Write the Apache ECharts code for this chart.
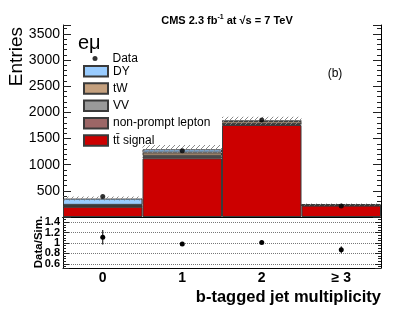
<!DOCTYPE html>
<html>
<head>
<meta charset="utf-8">
<script src="https://cdn.jsdelivr.net/npm/echarts@6/dist/echarts.min.js"></script>
<style>
  html, body { margin: 0; padding: 0; background: #fff; }
  #chart { width: 407px; height: 328px; }
</style>
</head>
<body>
<div id="chart"></div>
<script>
// b-tag multiplicity bins
const bins = ['0', '1', '2', '≥ 3'];
// stacked simulation, bottom to top
const ttSignal = [195, 1122, 1759, 218];
const nonPrompt = [10, 35, 20, 4];
const vv = [12, 15, 3, 1];
const tw = [15, 60, 50, 14];
const dy = [120, 62, 5, 3];
// data and simulation uncertainty band
const dataCounts = [390, 1268, 1855, 209];
const mcLow = [314, 1222, 1765, 222];
const mcHigh = [390, 1375, 1915, 258];
// ratio panel
const ratio = [1.11, 0.98, 1.01, 0.87];
const ratioErr = [0.14, 0.03, 0.03, 0.065];

const FONT = '"Liberation Sans", Arial, Helvetica, sans-serif';

// hatch pattern for the uncertainty band
const hatch = document.createElement('canvas');
hatch.width = 5; hatch.height = 5;
(function () {
    const c = hatch.getContext('2d');
    c.strokeStyle = '#8a8a8a';
    c.lineWidth = 1;
    c.beginPath();
    c.moveTo(0, 5); c.lineTo(5, 0);
    c.stroke();
})();

const chart = echarts.init(document.getElementById('chart'), null, { renderer: 'canvas' });

function bar(name, values, color) {
    return {
        name: name,
        type: 'bar',
        stack: 'mc',
        data: values,
        xAxisIndex: 0,
        yAxisIndex: 0,
        barCategoryGap: '0%',
        itemStyle: { color: color, borderColor: '#3a3a3a', borderWidth: 1 },
        emphasis: { disabled: true },
        animation: false
    };
}

const xCommon = {
    type: 'category',
    data: bins,
    boundaryGap: true,
    axisLine: { lineStyle: { color: '#000', width: 1 } },
    axisTick: { inside: true, alignWithLabel: true, length: 9, lineStyle: { color: '#222' } },
    splitLine: { show: false }
};

const option = {
    animation: false,
    title: {
        text: 'CMS 2.3 fb{sup|-1} at √s = 7 TeV',
        left: 222,
        top: 9,
        textAlign: 'center',
        textStyle: {
            fontFamily: FONT, fontSize: 11, fontWeight: 'bold', color: '#000',
            rich: { sup: { fontFamily: FONT, fontSize: 7, fontWeight: 'bold', padding: [0, 0, 6, 0] } }
        }
    },
    grid: [
        { left: 63, right: 26, top: 25, height: 192 },
        { left: 63, right: 26, top: 217, height: 51 }
    ],
    legend: [
        {
            data: [{ name: 'Data', icon: 'circle' }],
            orient: 'vertical', left: 92.5, top: 52.5, padding: 0,
            itemWidth: 5, itemHeight: 5, itemGap: 6,
            textStyle: { fontFamily: FONT, fontSize: 12, color: '#000', padding: [0, 0, 0, 10] },
            selectedMode: false
        },
        {
            data: ['DY', 'tW', 'VV', 'non-prompt lepton', 'tt\u0304 signal'],
            orient: 'vertical', left: 83, top: 65, padding: 0,
            icon: 'rect',
            itemWidth: 24, itemHeight: 10.5, itemGap: 4.8,
            textStyle: { fontFamily: FONT, fontSize: 12, color: '#000', lineHeight: 10 },
            selectedMode: false
        }
    ],
    xAxis: [
        Object.assign({}, xCommon, { gridIndex: 0, position: 'bottom', axisLabel: { show: false } }),
        Object.assign({}, xCommon, { gridIndex: 0, position: 'top', axisLabel: { show: false } }),
        Object.assign({}, xCommon, {
            gridIndex: 1, position: 'bottom',
            axisLabel: { margin: 3, fontFamily: FONT, fontSize: 14, fontWeight: 'bold', color: '#000' }
        }),
        Object.assign({}, xCommon, { gridIndex: 1, position: 'top', axisLabel: { show: false } })
    ],
    yAxis: [
        {
            gridIndex: 0, type: 'value', position: 'left', min: 0, max: 3670, interval: 500,
            axisLine: { show: true, lineStyle: { color: '#000' } },
            axisTick: { show: true, inside: true, length: 8, lineStyle: { color: '#222' } },
            minorTick: { show: true, splitNumber: 5, length: 4, lineStyle: { color: '#222' } },
            splitLine: { show: false },
            axisLabel: {
                margin: 3, fontFamily: FONT, fontSize: 14, color: '#000',
                showMaxLabel: false,
                formatter: function (v) { return v === 0 ? '' : String(v); }
            }
        },
        {
            gridIndex: 0, type: 'value', position: 'right', min: 0, max: 3670, interval: 500,
            axisLine: { show: true, lineStyle: { color: '#000' } },
            axisTick: { show: true, inside: true, length: 8, lineStyle: { color: '#222' } },
            minorTick: { show: true, splitNumber: 5, length: 4, lineStyle: { color: '#222' } },
            splitLine: { show: false },
            axisLabel: { show: false }
        },
        {
            gridIndex: 1, type: 'value', position: 'left', min: 0.52, max: 1.5, splitNumber: 5,
            axisLine: { show: true, lineStyle: { color: '#000' } },
            axisTick: { show: true, inside: true, length: 6, lineStyle: { color: '#222' } },
            minorTick: { show: true, splitNumber: 4, length: 3, lineStyle: { color: '#222' } },
            splitLine: { show: true, lineStyle: { color: '#777', type: 'dotted', width: 1 } },
            axisLabel: {
                margin: 3, fontFamily: FONT, fontSize: 11, fontWeight: 'bold', color: '#000',
                showMinLabel: false, showMaxLabel: false
            }
        },
        {
            gridIndex: 1, type: 'value', position: 'right', min: 0.52, max: 1.5, splitNumber: 5,
            axisLine: { show: true, lineStyle: { color: '#000' } },
            axisTick: { show: true, inside: true, length: 6, lineStyle: { color: '#222' } },
            minorTick: { show: true, splitNumber: 4, length: 3, lineStyle: { color: '#222' } },
            splitLine: { show: false },
            axisLabel: { show: false }
        }
    ],
    series: [
        bar('tt\u0304 signal', ttSignal, '#cc0000'),
        bar('non-prompt lepton', nonPrompt, '#9c6666'),
        bar('VV', vv, '#999999'),
        bar('tW', tw, '#c4a07e'),
        bar('DY', dy, '#99ccff'),
        {
            name: 'uncertainty',
            type: 'custom',
            xAxisIndex: 0, yAxisIndex: 0,
            z: 5,
            data: bins.map(function (b, i) { return [i, mcLow[i], mcHigh[i]]; }),
            renderItem: function (params, api) {
                const top = api.coord([api.value(0), api.value(2)]);
                const bot = api.coord([api.value(0), api.value(1)]);
                const w = api.size([1, 0])[0];
                return {
                    type: 'rect',
                    shape: { x: top[0] - w / 2, y: top[1], width: w, height: bot[1] - top[1] },
                    style: { fill: { image: hatch, repeat: 'repeat' }, stroke: null }
                };
            },
            silent: true
        },
        {
            name: 'Data',
            type: 'scatter',
            xAxisIndex: 0, yAxisIndex: 0,
            z: 10,
            symbol: 'circle',
            symbolSize: 5,
            data: dataCounts,
            itemStyle: { color: '#000' }
        },
        {
            name: 'ratio',
            type: 'custom',
            xAxisIndex: 2, yAxisIndex: 2,
            z: 10,
            data: bins.map(function (b, i) { return [i, ratio[i], ratioErr[i]]; }),
            renderItem: function (params, api) {
                const c = api.coord([api.value(0), api.value(1)]);
                const hi = api.coord([api.value(0), api.value(1) + api.value(2)]);
                const lo = api.coord([api.value(0), api.value(1) - api.value(2)]);
                return {
                    type: 'group',
                    children: [
                        { type: 'line', shape: { x1: c[0], y1: hi[1], x2: c[0], y2: lo[1] }, style: { stroke: '#000', lineWidth: 1 } },
                        { type: 'circle', shape: { cx: c[0], cy: c[1], r: 2.5 }, style: { fill: '#000' } }
                    ]
                };
            },
            silent: true
        }
    ],
    graphic: [
        {
            type: 'text', x: 17, y: 27, rotation: Math.PI / 2,
            style: { text: 'Entries', font: '19px ' + FONT, fill: '#000', align: 'right', verticalAlign: 'middle', textAlign: 'right', textVerticalAlign: 'middle' }
        },
        {
            type: 'text', x: 39, y: 242, rotation: Math.PI / 2,
            style: { text: 'Data/Sim.', font: 'bold 11.5px ' + FONT, fill: '#000', align: 'center', verticalAlign: 'middle', textAlign: 'center', textVerticalAlign: 'middle' }
        },
        {
            type: 'text', x: 381, y: 297,
            style: { text: 'b-tagged jet multiplicity', font: 'bold 16.5px ' + FONT, fill: '#000', align: 'right', verticalAlign: 'middle', textAlign: 'right', textVerticalAlign: 'middle' }
        },
        {
            type: 'text', x: 78, y: 43,
            style: { text: 'eμ', font: '20px ' + FONT, fill: '#000', align: 'left', verticalAlign: 'middle', textAlign: 'left', textVerticalAlign: 'middle' }
        },
        {
            type: 'text', x: 335, y: 74,
            style: { text: '(b)', font: '12px ' + FONT, fill: '#000', align: 'center', verticalAlign: 'middle', textAlign: 'center', textVerticalAlign: 'middle' }
        }
    ]
};

chart.setOption(option);
</script>
</body>
</html>
